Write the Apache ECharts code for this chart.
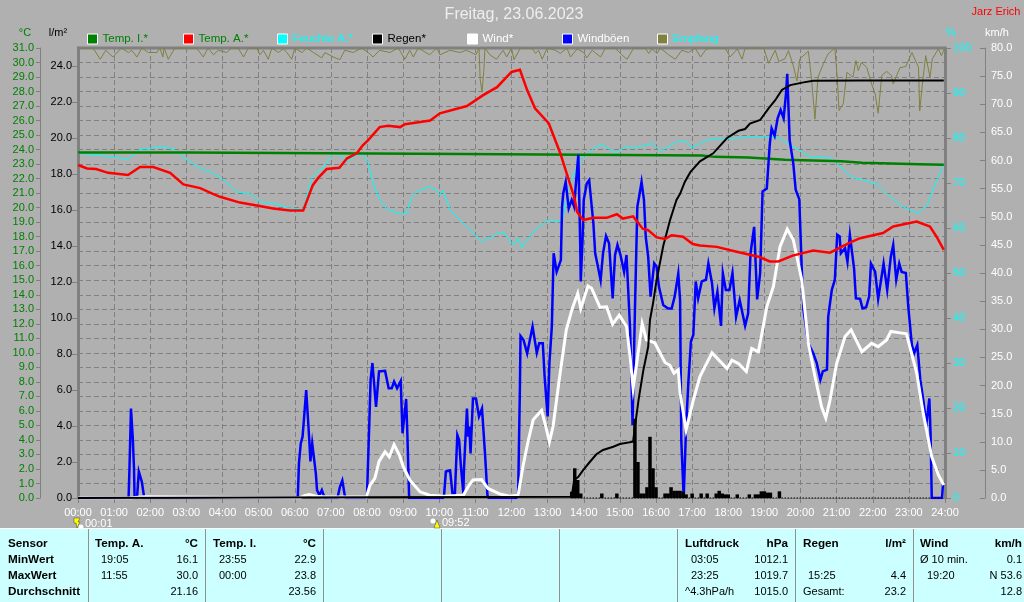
<!DOCTYPE html>
<html><head><meta charset="utf-8">
<style>html,body{margin:0;padding:0;background:#b0b0b0}#c{width:1024px;height:602px}</style>
<script src="https://cdn.jsdelivr.net/npm/echarts@6/dist/echarts.min.js"></script>
</head><body><div id="c"></div>
<script>
// every series: [minute of day, value]
const tempA=[[0,22.94],[15,22.7],[30,22.66],[50,22.4],[83,22.25],[103,22.8],[125,22.8],[153,22.4],[175,21.6],[203,21.35],[224,20.95],[236,20.75],[269,20.35],[297,20.15],[324,19.95],[352,19.8],[374,19.8],[390,21.55],[399,22.05],[413,22.66],[434,22.75],[447,23.4],[463,23.75],[473,24.3],[482,24.66],[501,25.55],[515,25.65],[535,25.55],[543,25.75],[585,26.0],[601,26.5],[646,27.0],[673,27.75],[696,28.3],[720,29.35],[734,29.5],[746,28.1],[759,26.85],[782,25.8],[801,23.75],[824,20.75],[829,19.7],[839,19.15],[856,19.3],[878,19.3],[895,19.55],[905,19.25],[922,19.4],[938,18.55],[947,18.45],[961,17.95],[975,17.85],[986,18.1],[1005,18.0],[1021,17.5],[1033,17.4],[1061,17.3],[1094,16.97],[1132,16.6],[1149,16.3],[1163,16.3],[1187,16.7],[1221,17.05],[1249,16.9],[1282,17.6],[1299,17.9],[1337,18.25],[1354,18.7],[1393,19.05],[1415,18.7],[1426,18.0],[1438,17.1]];
const tempI=[[0,23.8],[180,23.8],[181,23.7],[640,23.7],[641,23.66],[1036,23.6],[1037,23.55],[1058,23.5],[1114,23.45],[1174,23.3],[1268,23.2],[1302,23.1],[1398,23.0],[1438,22.95]];
const humidity=[[0,76.6],[31,76.2],[58,75.8],[83,75.3],[103,77.5],[141,78],[158,77.6],[181,75.1],[203,73.3],[224,72.2],[241,70.7],[252,69.6],[264,68],[286,67.6],[302,65.8],[330,65.3],[347,64.5],[374,64.2],[380,67],[388,71],[397,72.5],[407,73.3],[416,75.1],[424,76.7],[435,76.2],[447,74.7],[462,76.2],[473,76.4],[482,74.5],[490,70],[501,66.2],[513,64.2],[535,63.1],[546,63.3],[555,67],[563,68],[581,69.2],[596,68.4],[600,67.3],[606,68.4],[618,64],[631,62.2],[651,59.8],[663,57.8],[673,57],[681,58],[687,57.6],[697,59],[709,58.7],[720,56.6],[726,56.4],[731,57.8],[737,55.6],[756,59.2],[781,61.8],[804,61.4],[814,68.4],[825,72.5],[839,75.8],[862,78.2],[872,78.4],[892,76.7],[912,78.2],[922,77.7],[955,78.8],[967,77],[995,79.2],[1011,79.2],[1018,77.9],[1033,78.7],[1044,79.6],[1133,80.3],[1166,80],[1182,78.4],[1199,77.2],[1216,75.8],[1249,75.6],[1260,74.4],[1285,71.3],[1327,69.8],[1349,66.9],[1370,64.7],[1395,63.3],[1410,65],[1426,70.5],[1437,73.8]];
const rainTotal=[[0,0],[820,0.07],[824,1.0],[831,1.18],[839,1.55],[850,2.0],[861,2.43],[872,2.67],[889,2.85],[900,3.0],[922,3.13],[925,3.96],[931,5.44],[939,7.1],[947,8.4],[950,9.9],[955,10.8],[961,12.1],[972,14],[983,15.4],[994,16.56],[1000,16.9],[1008,17.57],[1017,18.1],[1033,18.7],[1055,19.15],[1078,20],[1097,20.4],[1108,20.5],[1116,20.8],[1133,21],[1147,21.65],[1158,22.1],[1169,22.67],[1183,22.94],[1205,23.09],[1221,23.18],[1299,23.2],[1438,23.2]];
const rainNone=[[820,0],[1438,0]];
const rainBars=[[820,0.35],[825,1.65],[830,1.0],[835,0.25],[870,0.25],[895,0.25],[925,4.4],[930,2],[935,0.25],[940,0.25],[945,0.6],[950,3.4],[955,1.65],[960,0.6],[975,0.25],[980,0.25],[985,0.6],[990,0.4],[995,0.4],[1000,0.4],[1005,0.35],[1010,0.2],[1020,0.25],[1035,0.25],[1045,0.25],[1060,0.25],[1065,0.4],[1070,0.25],[1075,0.2],[1080,0.2],[1095,0.2],[1115,0.2],[1125,0.2],[1130,0.2],[1135,0.37],[1140,0.37],[1145,0.3],[1150,0.3],[1165,0.37]];
const wind=[[0,0],[85,0],[88,0.2],[110,0.2],[112,0],[368,0],[376,0.4],[384,0.6],[395,0.3],[415,0.2],[479,0.2],[485,2.3],[493,3.5],[500,6.5],[510,8.2],[517,7.3],[525,9.5],[534,7.6],[540,5.6],[551,3.2],[568,1.1],[584,0.5],[607,0.3],[640,0.5],[648,2],[656,3.2],[670,3.3],[681,1.7],[701,0.7],[717,0.3],[731,0.5],[739,5.6],[748,10.3],[756,13.9],[770,15.6],[777,12.7],[783,10],[789,12.7],[800,21.6],[811,29.9],[821,33.7],[830,36.4],[835,33.7],[847,37.7],[853,37.3],[867,33.9],[878,34],[888,30.9],[899,32.5],[911,30.5],[917,25.1],[922,19.5],[928,24],[937,31],[944,28.1],[958,27.6],[975,24.1],[983,23.6],[990,22.2],[997,22.8],[1000,18.6],[1010,12.1],[1022,17.4],[1033,21.6],[1053,25.8],[1078,23],[1086,24.5],[1097,23.9],[1110,22.5],[1119,26.6],[1130,26],[1136,29.3],[1144,34],[1155,37.6],[1166,44.7],[1178,47.8],[1188,45.9],[1202,38.8],[1213,27.5],[1224,21.6],[1235,16.2],[1242,14.2],[1249,17.4],[1260,23.9],[1274,28.7],[1284,29.9],[1302,26],[1318,27.5],[1329,26.9],[1343,28.1],[1350,29.6],[1363,29.4],[1376,29.2],[1393,22.2],[1404,15],[1418,7.3],[1429,4.1],[1438,2.3]];
const gusts=[[0,0],[84,0],[85.5,5.3],[88,15.9],[90,15.9],[91,10.6],[93,5.3],[94,0],[98,0],[101,4.7],[104,4.7],[106,2.9],[110,0],[365,0],[367,6.2],[370,9.7],[373,10.9],[376,15],[379,19.2],[382,19.2],[384,10.6],[386,6.5],[389,9.7],[392,9.7],[395,4.4],[397,1.4],[401,0.5],[405,1.4],[408,0.5],[411,0],[431,0],[435,2],[439,3.1],[443,0.5],[445,0],[477,0],[480,0.5],[484,13.9],[486,21],[489,24],[491,24],[495,16.2],[497,16.2],[500,22.5],[510,22.6],[516,19.5],[521,19.5],[525,20.7],[530,19.5],[536,20.8],[539,11.5],[542,14.5],[545,17.6],[547,11.5],[550,0],[606,0],[608,0.5],[611,4.7],[618,4.9],[622,0.8],[626,0.8],[630,11.2],[633,10.3],[636,5.6],[640,0.8],[641,5],[646,15.9],[648,10.9],[650,12.7],[652,7.9],[656,17.7],[661,17.7],[666,14.5],[671,15.9],[676,7.9],[680,0.5],[682,0],[728,0],[731,0.5],[734,19.8],[735,28.8],[740,28.1],[746,25.7],[755,30.5],[762,25.8],[766,27.5],[772,27.5],[775,21.6],[780,14.5],[783,24],[787,30.5],[790,43.5],[795,40.2],[802,42.3],[804,51.8],[806,54.2],[810,56.2],[812,56.2],[815,51.5],[820,53],[824,51.8],[827,55.9],[831,61],[833,61],[834,45.9],[835,38.5],[838,45.9],[840,53],[845,55.9],[849,56.5],[852,56.2],[856,48.8],[859,43.5],[863,41.4],[868,38.7],[872,43.5],[877,46.6],[882,45.3],[888,35.5],[892,43.2],[896,45],[901,43.2],[907,40.2],[911,43.2],[917,30],[920,18],[921,13],[923,13],[925,33.4],[929,51.8],[932,53.6],[936,56.2],[940,53],[943,46.4],[947,42.9],[951,35.8],[957,41.7],[961,41.1],[965,37.5],[972,34.3],[980,33.7],[986,33.7],[991,35.8],[997,39.9],[1000,35.2],[1002,10.3],[1006,0],[1008,0],[1010,12.7],[1014,21],[1018,27.8],[1022,29],[1026,38.5],[1030,35.5],[1036,38.5],[1043,38.8],[1047,41.7],[1053,38.2],[1057,33.7],[1062,36.7],[1068,30.6],[1071,40],[1076,37],[1082,37],[1087,40],[1093,32.2],[1099,35.2],[1108,30.6],[1113,32.8],[1117,43.5],[1123,48.2],[1128,35.3],[1133,40],[1137,54.5],[1144,55],[1149,63],[1152,65.7],[1157,64.4],[1162,67.5],[1167,69],[1172,67.5],[1176,72],[1178,75.4],[1180,75.4],[1182,63.6],[1188,59.5],[1192,54.8],[1198,53.1],[1202,41],[1205,33.4],[1213,27.5],[1221,25.8],[1227,24],[1233,21],[1237,22.5],[1244,22.8],[1246,32.2],[1252,37],[1257,38.8],[1261,46.8],[1265,46.5],[1267,43.5],[1274,44.4],[1278,42],[1282,46.8],[1289,40.8],[1292,35.5],[1299,35.4],[1303,33.7],[1309,33.9],[1314,35.8],[1317,41.7],[1324,40.2],[1329,35.4],[1338,41.7],[1344,37],[1350,42.9],[1354,45],[1359,38.8],[1364,41.7],[1368,40.2],[1375,40],[1379,34],[1385,27.2],[1389,25.8],[1394,27.2],[1399,21],[1404,17.4],[1409,13],[1414,17.7],[1416,11.5],[1418,0],[1435,0],[1437,2.9],[1438,2.9]];
const reception=[[0,100],[25,100],[37,97.5],[46,99.5],[58,98],[72,100],[84,99],[89,99.5],[98,98],[106,100],[117,99],[131,99],[136,100],[141,98],[143,100],[150,97.5],[161,100],[197,100],[208,98],[216,100],[225,98.5],[233,99.5],[247,99],[255,100],[266,100],[275,98],[283,100],[297,100],[302,98.5],[308,99.5],[316,97.5],[322,100],[333,99],[341,99.8],[347,99],[355,97.5],[360,100],[372,99],[380,100],[391,99],[405,97.8],[410,99],[424,98],[435,97.4],[443,99.5],[457,99],[471,100],[482,99],[490,98],[501,99.5],[518,99],[532,100],[543,97.5],[551,99.5],[557,98],[565,100],[584,98.5],[596,100],[601,98.5],[618,99.5],[634,99],[645,99.5],[661,98.5],[666,100],[668,93],[671,90.2],[674,95],[676,100],[684,98.5],[695,97.5],[706,99.5],[712,98],[720,100],[724,97.4],[735,100],[754,100],[760,98.8],[765,99.5],[771,97.5],[779,100],[793,99.5],[801,98.8],[812,100],[818,98],[829,99.8],[840,99],[845,97.8],[854,99.5],[868,98],[876,100],[892,100],[903,98.5],[912,97.5],[923,100],[942,100],[948,98.8],[953,99.8],[962,98.8],[967,100],[981,98.5],[992,97.5],[1003,99.5],[1014,99],[1025,100],[1034,98],[1042,99.5],[1048,100],[1075,100],[1083,98],[1095,99.8],[1103,97.5],[1108,100],[1139,100],[1147,96.6],[1158,99.5],[1164,97],[1174,97.6],[1180,99.4],[1188,96.1],[1194,92.7],[1199,97.6],[1213,99.3],[1218,93.5],[1224,84.2],[1229,93.5],[1238,96.5],[1246,98.7],[1257,100],[1261,93.5],[1264,86.1],[1271,87.6],[1277,94.6],[1287,93.5],[1292,97.2],[1296,95],[1301,96.8],[1310,95.7],[1318,92],[1324,89.8],[1329,85.5],[1335,93.9],[1343,94.8],[1351,93.9],[1354,92],[1365,95.6],[1375,95.9],[1385,99],[1396,95.7],[1398,86],[1403,92.7],[1408,98.3],[1415,93.5],[1419,97.6],[1429,99.8],[1434,98.3],[1439,99.8]];

const legendNames=['Temp. I.*','Temp. A.*','Feuchte A.*','Regen*','Wind*','Windböen','Empfang'];
const rowLabels=['Sensor','MinWert','MaxWert','Durchschnitt'];
const colTempA=[['Temp. A.','°C'],['19:05','16.1'],['11:55','30.0'],['','21.16']];
const colTempI=[['Temp. I.','°C'],['23:55','22.9'],['00:00','23.8'],['','23.56']];
const colPressure=[['Luftdruck','hPa'],['03:05','1012.1'],['23:25','1019.7'],['^4.3hPa/h','1015.0']];
const colRain=[['Regen','l/m²'],['',''],['15:25','4.4'],['Gesamt:','23.2']];
const colWind=[['Wind','km/h'],['Ø 10 min.','0.1'],['19:20','N 53.6'],['','12.8']];

const FONT='"Liberation Sans",Arial,sans-serif';
const C={bg:'#b0b0b0',grid:'#808080',dgreen:'#008000',red:'#ff0000',cyan:'#00ffff',black:'#000000',white:'#ffffff',blue:'#0000ff',olive:'#808040',panel:'#ccffff'};
const L=78,R=945,T=48,B=498;

const lineSer=(name,data,yAxisIndex,color,width,extra)=>Object.assign({name,type:'line',data:data.slice().sort((a,b)=>a[0]-b[0]),yAxisIndex,showSymbol:false,symbol:'none',smooth:false,silent:true,lineStyle:{color,width,cap:'butt',join:'miter'},itemStyle:{color}},extra||{});

const pad=v=>String(v).padStart(2,'0');
const yAxis=(o)=>Object.assign({type:'value',alignTicks:false,scale:false},o);

const legendCols=[C.dgreen,C.red,C.cyan,C.black,C.white,C.blue,C.olive];
const legendText=[C.dgreen,C.dgreen,C.cyan,C.black,C.white,C.white,C.cyan];
const legendLeft=[87,183,277,372,467,562,657];
const legend=legendNames.map((n,i)=>({data:[n],left:legendLeft[i],top:33,icon:'rect',itemWidth:10,itemHeight:10,itemGap:5,padding:0,selectedMode:false,
  itemStyle:{color:legendCols[i],borderColor:'#fff',borderWidth:1},textStyle:{color:legendText[i],fontFamily:FONT,fontSize:11.5}}));

// panel graphics
const g=[];
const txt=(text,x,y,o)=>g.push({type:'text',z:100,silent:true,style:Object.assign({text,x,y,fill:'#000',font:'11px '+FONT,textAlign:'left',textVerticalAlign:'middle'},o||{})});
g.push({type:'rect',z:90,silent:true,shape:{x:0,y:529,width:1024,height:73},style:{fill:C.panel}});
g.push({type:'rect',z:91,silent:true,shape:{x:0,y:528,width:1024,height:1},style:{fill:'#ffffff'}});
[88,205,323,441,559,677,795,913].forEach(x=>g.push({type:'rect',z:91,silent:true,shape:{x,y:529,width:1,height:73},style:{fill:'#909090'}}));
g.push({type:'rect',z:1,silent:true,shape:{x:L-1,y:T-1.5,width:R-L+2,height:3},style:{fill:C.grid}});
const rowY=[544,560,576,592];
rowLabels.forEach((t,i)=>txt(t,8,rowY[i],{font:'bold 11.7px '+FONT}));
const col=(rows,left,indent,right)=>rows.forEach((r,i)=>{
  const head=i===0;
  const f=head?'bold 11.7px '+FONT:'11px '+FONT;
  const isTime=/^\d\d:\d\d$/.test(r[0]);
  if(r[0])txt(r[0],left+(isTime?indent:0),rowY[i],{font:f});
  if(r[1])txt(r[1],right,rowY[i],{font:f,textAlign:'right'});
});
col(colTempA,95,6,198);col(colTempI,213,6,316);col(colPressure,685,6,788);col(colRain,803,5,906);col(colWind,920,7,1022);
// top texts
txt('Freitag, 23.06.2023',514,15,{font:'16px '+FONT,fill:'#eeeeee',textAlign:'center'});
txt('Jarz Erich',996,12,{font:'11px '+FONT,fill:C.red,textAlign:'center'});
txt('°C',25,33,{fill:C.dgreen,textAlign:'center'});
txt('l/m²',58,33,{fill:C.black,textAlign:'center'});
txt('%',951,33,{fill:C.cyan,textAlign:'center'});
txt('km/h',997,33,{fill:C.white,textAlign:'center'});
// sunrise / sunset markers
txt('00:01',85,524,{fill:'#fff'});
txt('09:52',442,523,{fill:'#fff'});
g.push({type:'circle',z:99,silent:true,shape:{cx:81,cy:527,r:2.5},style:{fill:'#fff'}});
g.push({type:'polygon',z:100,silent:true,shape:{points:[[74,518],[80,518],[78,522],[80,522],[77,528],[76,523],[74,523]]},style:{fill:'#ffff00',stroke:'#404040',lineWidth:0.5}});
g.push({type:'circle',z:99,silent:true,shape:{cx:433,cy:521,r:2.5},style:{fill:'#fff'}});
g.push({type:'polygon',z:100,silent:true,shape:{points:[[437,520],[440,528],[434,528]]},style:{fill:'#ffff00',stroke:'#404040',lineWidth:0.5}});

const axisFont=(color,o)=>Object.assign({color,fontFamily:FONT,fontSize:11},o||{});
const option={
  animation:false,backgroundColor:C.bg,
  legend,graphic:g,
  grid:{left:L,right:1024-R,top:T,bottom:602-B,containLabel:false,show:false},
  xAxis:{type:'value',min:0,max:1440,interval:60,
    axisLine:{show:true,lineStyle:{color:C.grid,width:1}},
    axisTick:{show:true,length:5,lineStyle:{color:C.grid}},
    axisLabel:{...axisFont('#ffffff'),margin:9,formatter:v=>pad(v/60)+':00',showMinLabel:true,showMaxLabel:true},
    splitLine:{show:true,lineStyle:{color:C.grid,type:[5,3],width:1}}},
  yAxis:[
    yAxis({position:'left',offset:38,min:0,max:31,interval:1,
      axisLine:{show:true,onZero:false,lineStyle:{color:C.grid,width:1}},axisTick:{show:true,length:4,lineStyle:{color:C.grid}},
      axisLabel:{...axisFont(C.dgreen),margin:6,formatter:v=>v.toFixed(1)},
      splitLine:{show:true,lineStyle:{color:C.grid,type:[5,3],width:1}}}),
    yAxis({position:'left',offset:0,min:0,max:25,interval:2,
      axisLine:{show:true,onZero:false,lineStyle:{color:C.grid,width:3}},axisTick:{show:true,length:6,lineStyle:{color:C.grid}},
      axisLabel:{...axisFont(C.black),margin:6,showMaxLabel:false,formatter:v=>v.toFixed(1)},
      splitLine:{show:false}}),
    yAxis({position:'right',offset:0,min:0,max:100,interval:10,
      axisLine:{show:true,onZero:false,lineStyle:{color:C.grid,width:3}},axisTick:{show:true,length:6,lineStyle:{color:C.grid}},
      axisLabel:{...axisFont(C.cyan),margin:8},
      splitLine:{show:false}}),
    yAxis({position:'right',offset:40,min:0,max:80,interval:5,
      axisLine:{show:true,onZero:false,lineStyle:{color:C.grid,width:1}},axisTick:{show:true,inside:true,length:5,lineStyle:{color:C.grid}},
      axisLabel:{...axisFont(C.white),margin:6,formatter:v=>v.toFixed(1)},
      splitLine:{show:false}})
  ],
  series:[
    lineSer('Empfang',reception,2,C.olive,1,{z:2}),
    lineSer('Feuchte A.*',humidity,2,C.cyan,1,{z:3}),
    lineSer('Temp. I.*',tempI,0,C.dgreen,2.5,{z:4}),
    lineSer('Windböen',gusts,3,C.blue,2.5,{z:5}),
    lineSer('Wind*',wind,3,C.white,3,{z:6}),
    {name:'Regenmenge',type:'bar',yAxisIndex:1,data:rainBars,barWidth:3.5,silent:true,itemStyle:{color:C.black},z:7},
    lineSer('RegenNull',rainNone,1,C.black,1.5,{z:7,lineStyle:{color:C.black,width:1.5,type:[1,2]}}),
    lineSer('Regen*',rainTotal,1,C.black,2,{z:8}),
    lineSer('Temp. A.*',tempA,0,C.red,2.5,{z:9})
  ]
};
const chart=echarts.init(document.getElementById('c'),null,{width:1024,height:602});
chart.setOption(option);
</script>
</body></html>
